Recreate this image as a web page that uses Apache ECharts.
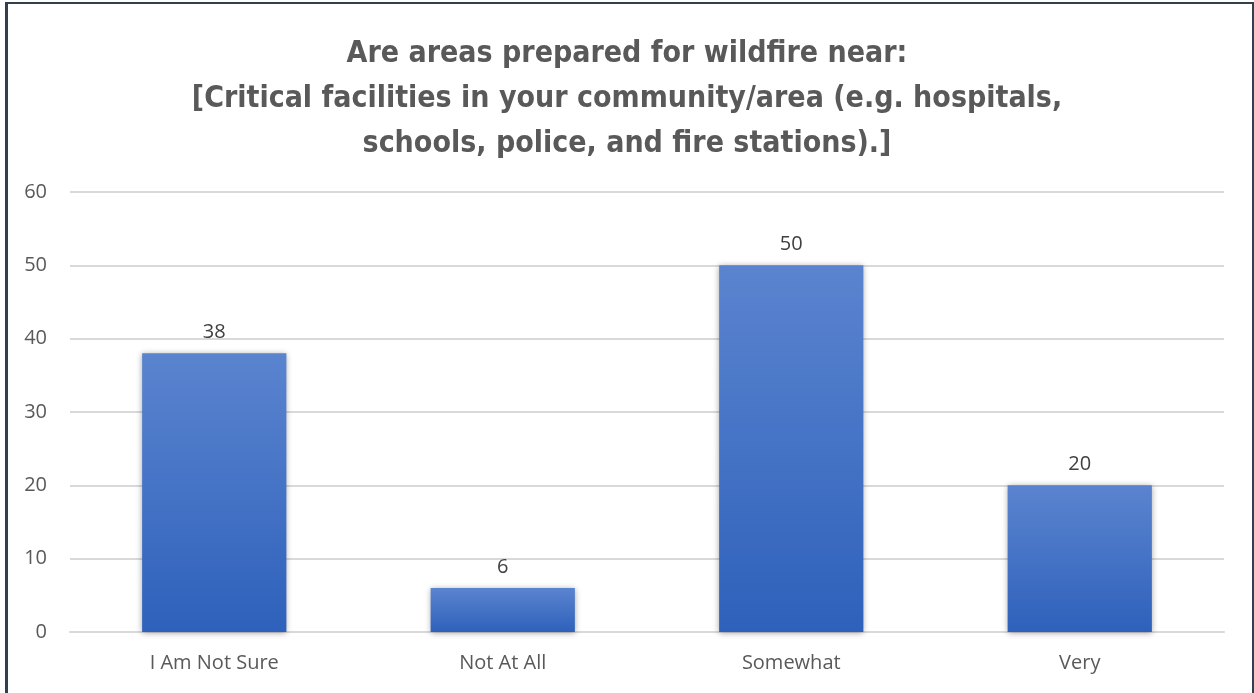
<!DOCTYPE html>
<html>
<head>
<meta charset="utf-8">
<script src="https://cdn.jsdelivr.net/npm/echarts@6/dist/echarts.min.js"></script>
<style>
  html, body { margin: 0; padding: 0; background: #fff; }
  #frame { position: absolute; left: 5px; top: 2px; width: 1244px; height: 700px;
           border-left: 3px solid #323f4f; border-top: 2px solid #323f4f; border-right: 2px solid #323f4f; }
  #chart { position: absolute; left: 0; top: 0; width: 1254px; height: 693px; }
</style>
</head>
<body>
<div id="frame"></div>
<div id="chart"></div>
<script>
// Survey responses
const categories = ['I Am Not Sure', 'Not At All', 'Somewhat', 'Very'];
const responses = [38, 6, 50, 20];
const yTicks = { min: 0, max: 60, interval: 10 };
const titleText = 'Are areas prepared for wildfire near:\n[Critical facilities in your community/area (e.g. hospitals,\nschools, police, and fire stations).]';

const chart = echarts.init(document.getElementById('chart'), null, { renderer: 'canvas' });
chart.setOption({
  animation: false,
  backgroundColor: 'transparent',
  title: {
    text: titleText,
    left: 'center',
    top: 27,
    textStyle: {
      fontFamily: '"DejaVu Sans Condensed", "Open Sans", sans-serif',
      fontWeight: 'bold',
      fontSize: 30,
      color: '#595959',
      lineHeight: 45,
      align: 'center'
    }
  },
  grid: { left: 70, right: 30, top: 192, bottom: 61, containLabel: false },
  xAxis: {
    type: 'category',
    data: categories,
    axisLine: { show: true, lineStyle: { color: '#d9d9d9', width: 2 } },
    axisTick: { show: false },
    axisLabel: { color: '#595959', fontSize: 20, fontFamily: '"Open Sans", sans-serif', margin: 21 }
  },
  yAxis: {
    type: 'value',
    min: yTicks.min, max: yTicks.max, interval: yTicks.interval,
    axisLine: { show: false },
    axisTick: { show: false },
    axisLabel: { color: '#595959', fontSize: 20, fontFamily: '"Open Sans", sans-serif', margin: 23 },
    splitLine: { lineStyle: { color: '#d9d9d9', width: 2 } }
  },
  series: [{
    type: 'bar',
    data: responses,
    barWidth: '50%',
    itemStyle: {
      color: new echarts.graphic.LinearGradient(0, 0, 0, 1, [
        { offset: 0, color: '#5b84cf' },
        { offset: 1, color: '#2e61bb' }
      ]),
      shadowColor: 'rgba(0,0,0,0.35)',
      shadowBlur: 6,
      shadowOffsetX: 0,
      shadowOffsetY: 1
    },
    label: {
      show: true,
      position: 'top',
      distance: 11,
      color: '#404040',
      fontSize: 20,
      fontFamily: '"Open Sans", sans-serif'
    }
  }]
});
</script>
</body>
</html>
